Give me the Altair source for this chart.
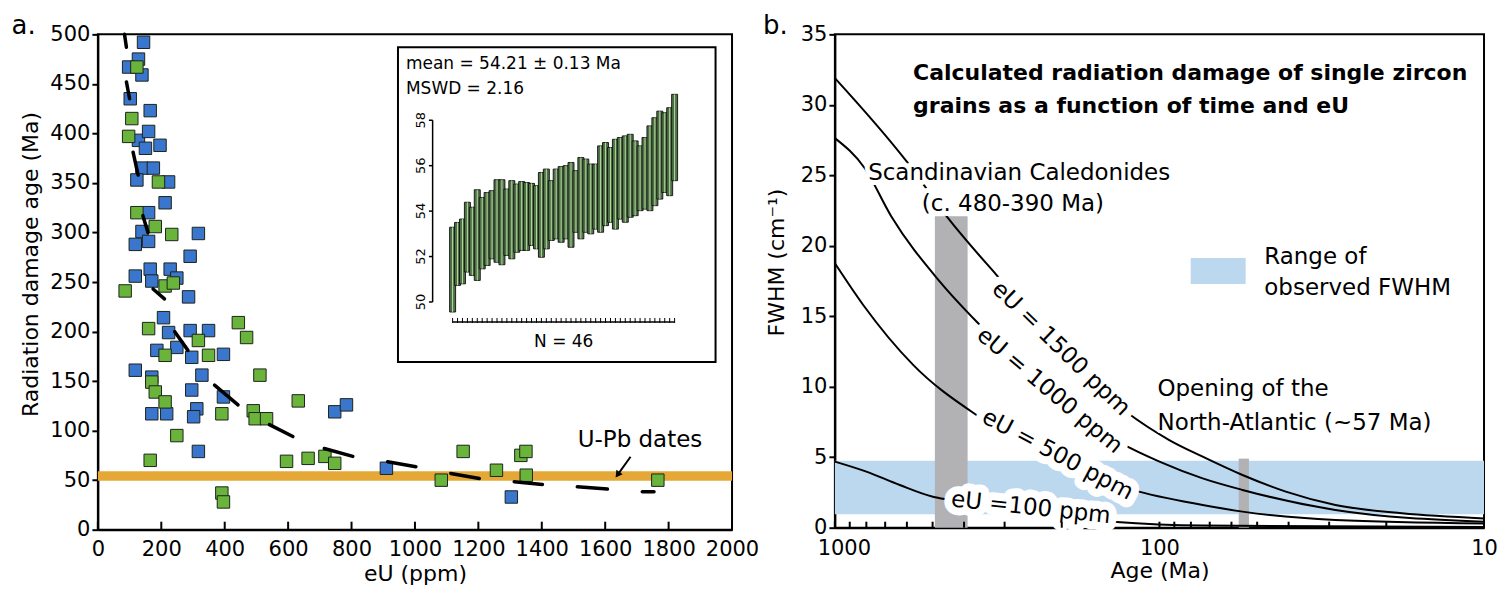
import altair as alt
import pandas as pd

FONT = "DejaVu Sans"

# ---------------- Panel a : radiation damage age vs eU ----------------
blue_eu = [144, 128, 97, 139, 102, 165, 128, 160, 150, 196, 139, 175, 123, 223, 212, 160, 139,
           317, 118, 160, 291, 118, 165, 228, 170, 249, 286, 207, 223, 291, 349, 186, 249, 296,
           396, 118, 170, 328, 296, 312, 302, 396, 170, 217, 317, 747, 784, 910, 1304]
blue_age = [492, 475, 467, 459, 435, 423, 393, 402, 385, 388, 365, 365, 353, 351, 330, 320, 301,
            299, 288, 291, 276, 256, 263, 263, 251, 254, 235, 214, 199, 201, 201, 181, 184, 174,
            177, 161, 154, 156, 141, 122, 114, 134, 117, 117, 79, 119, 126, 62, 33]

green_eu = [123, 107, 97, 191, 123, 181, 233, 212, 238, 86, 160, 317, 212, 349, 443, 469, 170,
            181, 212, 391, 511, 490, 496, 532, 632, 249, 165, 595, 663, 716, 747, 391, 396,
            1083, 1152, 1257, 1334, 1350, 1351, 1766]
green_age = [467, 415, 397, 351, 320, 306, 298, 246, 249, 241, 203, 191, 176, 176, 209, 194, 149,
             139, 129, 117, 156, 120, 112, 112, 130, 95, 70, 69, 72, 74, 67, 37, 28,
             50, 79, 60, 75, 79, 55, 50]

# dashed trend line, one entry per visible dash
dash_eu1 = [84, 90, 111, 142, 174, 242, 368, 541, 714, 914, 1113, 1313, 1512, 1717]
dash_age1 = [500, 452, 381, 317, 243, 200, 146, 106, 82, 68.5, 56.8, 48.4, 43.3, 38.3]
dash_eu2 = [90, 100, 127, 158, 210, 284, 442, 615, 804, 1003, 1203, 1402, 1607, 1754]
dash_age2 = [487, 435, 358, 300, 233, 181, 126, 94, 74, 63.5, 51.7, 45.7, 41.0, 38.3]

upb_band = [49.5, 59.0]          # U-Pb dates band (Ma)
arrow_eu = [1680, 1639]
arrow_age = [73.6, 55.4]

eu_ticks = list(range(0, 2001, 200))
age_ticks = list(range(0, 501, 50))

# inset: 46 single-grain U-Pb ages (error bars)
inset_hi = [53.29, 53.5, 53.65, 54.39, 54.17, 54.94, 54.6, 54.82, 54.9, 55.38, 55.38, 54.97, 55.34,
            55.19, 55.3, 55.26, 55.22, 55.12, 55.7, 55.85, 55.34, 55.85, 55.96, 56.0, 56.14, 55.78,
            56.36, 56.29, 56.07, 56.07, 56.87, 57.02, 56.8, 57.16, 57.24, 57.31, 57.38, 57.09,
            56.87, 57.24, 57.75, 58.11, 58.4, 58.33, 58.55, 59.14]
inset_lo = [49.56, 50.73, 50.8, 51.32, 51.17, 50.95, 51.46, 51.61, 51.9, 51.75, 51.64, 52.05, 51.9,
            52.19, 52.27, 52.27, 52.49, 52.34, 51.97, 52.34, 52.71, 52.78, 52.63, 52.78, 52.41,
            53.07, 52.78, 53.07, 53.0, 53.21, 53.07, 53.36, 53.51, 53.21, 53.65, 53.51, 53.73,
            53.8, 54.02, 54.09, 54.02, 54.24, 54.53, 54.82, 54.68, 55.34]
inset_ticks = [50, 52, 54, 56, 58]

# ---------------- Panel b : FWHM vs age ----------------
c1500_age = [1000, 602, 448, 318, 127, 93.3, 73.6, 55.5, 40.8, 28.7, 17.9, 10]
c1500_fwhm = [31.9, 26.0, 21.96, 17.94, 8.24, 6.22, 5.04, 3.74, 2.56, 1.61, 1.02, 0.66]
c1000_age = [1000, 809, 670, 475, 358, 131, 100, 73.6, 55.5, 28.7, 10]
c1000_fwhm = [27.64, 25.5, 22.08, 17.46, 14.39, 5.98, 4.69, 3.5, 2.68, 1.26, 0.43]
c500_age = [1000, 818, 574, 354, 121, 73.6, 55.5, 28.7, 10]
c500_fwhm = [18.76, 15.8, 11.55, 7.76, 2.68, 1.61, 1.14, 0.55, 0.3]
c100_age = [1000, 800, 631, 499, 443, 139, 73.6, 10]
c100_fwhm = [4.69, 3.98, 3.03, 2.2, 1.97, 0.43, 0.15, 0.05]

curve_labels = ["eU = 1500 ppm", "eU = 1000 ppm", "eU = 500 ppm", "eU =100 ppm"]
curve_label_age = [201, 218, 206, 249]
curve_label_fwhm = [12.7, 9.73, 5.18, 1.42]
curve_label_angle = [44, 40, 28, 6]

fwhm_range = [0.95, 4.75]                  # observed FWHM band
caledonides = [492, 390, 0, 22.1]          # age from, age to, fwhm from, fwhm to
atlantic = [57, 53, 0, 4.9]

age_minor_ticks = [1000, 900, 800, 700, 600, 500, 400, 300, 200, 100,
                   90, 80, 70, 60, 50, 40, 30, 20, 10]
age_labels = [1000, 100, 10]
fwhm_ticks = list(range(0, 36, 5))

# ---------------- layout ----------------
W_A, H_A = 635, 496
W_B, H_B = 650, 494
BLUE, GREEN, EDGE = "#3a76cd", "#6ab43c", "#1c241c"
ORANGE = "#E5A837"


def halo_text(text, x, y, size, align="left", baseline="middle", weight="normal", halo=8, angle=0):
    df = pd.DataFrame({"t": [text]})
    return alt.Chart(df).mark_text(font=FONT, fontSize=size, align=align, baseline=baseline,
                                   fontWeight=weight, color="white", stroke="white",
                                   strokeWidth=halo, strokeJoin="round", angle=angle
                                   ).encode(text="t:N", x=alt.value(x), y=alt.value(y))


def label(text, x, y, size, align="left", baseline="middle", weight="normal", angle=0):
    df = pd.DataFrame({"t": [text]})
    return alt.Chart(df).mark_text(font=FONT, fontSize=size, align=align, baseline=baseline,
                                   fontWeight=weight, color="black", angle=angle
                                   ).encode(text="t:N", x=alt.value(x), y=alt.value(y))


# ----- panel a -----
xa = alt.Scale(domain=[0, 2000], nice=False, zero=False)
ya = alt.Scale(domain=[0, 500], nice=False)
axa_x = alt.Axis(values=eu_ticks, format="d", title="eU (ppm)", ticks=False, tickSize=0, labelPadding=9,
                 titlePadding=4, labelFlush=False, labelOverlap=False)
axa_y = alt.Axis(values=age_ticks, format="d", title="Radiation damage age (Ma)", tickSize=6, labelPadding=2,
                 titlePadding=7, titleY=230, labelFlush=False, labelOverlap=False)


def XA(f):
    return alt.X(f, type="quantitative", scale=xa, axis=axa_x)


def YA(f):
    return alt.Y(f, type="quantitative", scale=ya, axis=axa_y)


band_df = pd.DataFrame({"x1": [eu_ticks[0]], "x2": [eu_ticks[-1]], "y1": [upb_band[0]], "y2": [upb_band[1]]})
band = alt.Chart(band_df).mark_rect(color=ORANGE).encode(x=XA("x1"), x2="x2", y=YA("y1"), y2="y2")

blue = alt.Chart(pd.DataFrame({"eU": blue_eu, "age": blue_age})).mark_point(
    shape="square", filled=True, size=155, fill=BLUE, stroke=EDGE, strokeWidth=1, opacity=1
).encode(x=XA("eU"), y=YA("age"))
green = alt.Chart(pd.DataFrame({"eU": green_eu, "age": green_age})).mark_point(
    shape="square", filled=True, size=155, fill=GREEN, stroke=EDGE, strokeWidth=1, opacity=1
).encode(x=XA("eU"), y=YA("age"))

dash_df = pd.DataFrame({"e1": dash_eu1, "a1": dash_age1, "e2": dash_eu2, "a2": dash_age2})
dashes = alt.Chart(dash_df).mark_rule(color="black", strokeWidth=3.5, strokeCap="round").encode(
    x=XA("e1"), y=YA("a1"), x2="e2", y2="a2")

xtick_a = alt.Chart(pd.DataFrame({"v": eu_ticks})).mark_rule(color="black", strokeWidth=2).encode(
    x=XA("v"), y=alt.value(H_A), y2=alt.value(H_A - 8))

arrow_df = pd.DataFrame({"e1": [arrow_eu[0]], "a1": [arrow_age[0]], "e2": [arrow_eu[1]], "a2": [arrow_age[1]]})
arrow_line = alt.Chart(arrow_df).mark_rule(color="black", strokeWidth=2).encode(
    x=XA("e1"), y=YA("a1"), x2="e2", y2="a2")
arrow_head = alt.Chart(arrow_df).mark_point(shape="triangle-down", filled=True, size=60, color="black",
                                             angle=36, opacity=1).encode(x=XA("e2"), y=YA("a2"))

box_df = pd.DataFrame({"t": ["box"]})
inset_box = alt.Chart(box_df).mark_rect(fill="white", stroke="black", strokeWidth=2).encode(
    x=alt.value(300.5), x2=alt.value(618.5), y=alt.value(13), y2=alt.value(328))

main_a = alt.layer(
    band, blue, green, dashes, xtick_a, arrow_line, arrow_head, inset_box,
    label("U-Pb dates", 480.5, 406, 23),
    label("a.", -86.5, 0, 26, baseline="alphabetic"),
)

# inset (own scales, explicit pixel ranges inside panel a)
xi = alt.Scale(domain=[1, 46], range=[350.2, 582.5], nice=False, zero=False)
yi = alt.Scale(domain=[50, 58], range=[268, 86], nice=False, zero=False)
bars_df = pd.DataFrame({"i": list(range(1, len(inset_lo) + 1)), "lo": inset_lo, "hi": inset_hi})
XI = lambda f: alt.X(f, type="quantitative", scale=xi, axis=None)
YI = lambda f: alt.Y(f, type="quantitative", scale=yi, axis=None)

bars = alt.Chart(bars_df).mark_bar(size=6, fill="#4f6f48", stroke="#111111", strokeWidth=0.9).encode(
    x=XI("i"), y=YI("lo"), y2="hi")
stripes = alt.Chart(bars_df).mark_rule(color="#b3de98", strokeWidth=1).encode(
    x=XI("i"), y=YI("lo"), y2="hi")
ib_ticks = alt.Chart(bars_df).mark_rule(color="black", strokeWidth=1).encode(
    x=XI("i"), y=alt.value(284), y2=alt.value(289))
ib_line_df = pd.DataFrame({"a": [1], "b": [len(inset_lo)]})
ib_line = alt.Chart(ib_line_df).mark_rule(color="black", strokeWidth=1.5).encode(
    x=XI("a"), x2="b", y=alt.value(288))
iy_df = pd.DataFrame({"v": inset_ticks})
iy_line_df = pd.DataFrame({"a": [inset_ticks[0]], "b": [inset_ticks[-1]]})
iy_line = alt.Chart(iy_line_df).mark_rule(color="black", strokeWidth=1.5).encode(
    x=alt.value(335.2), y=YI("a"), y2="b")
iy_ticks = alt.Chart(iy_df).mark_rule(color="black", strokeWidth=1.5).encode(
    x=alt.value(331.5), x2=alt.value(335.2), y=YI("v"))
iy_labels = alt.Chart(iy_df).mark_text(font=FONT, fontSize=13, angle=270, align="center",
                                       baseline="middle", color="black").encode(
    text=alt.Text("v:Q", format="d"), x=alt.value(324), y=YI("v"))

inset = alt.layer(
    bars, stripes, ib_line, ib_ticks, iy_line, iy_ticks, iy_labels,
    label("mean =  54.21 ± 0.13 Ma", 308.5, 29.7, 17),
    label("MSWD = 2.16", 308.5, 54.7, 17),
    label("N = 46", 466.5, 308, 17, align="center"),
)

panel_a = alt.layer(main_a, inset).resolve_scale(x="independent", y="independent").properties(
    width=W_A, height=H_A)

# ----- panel b -----
xb = alt.Scale(type="log", domain=[10, 1000], reverse=True, nice=False)
yb = alt.Scale(domain=[0, 35], nice=False)
axb_x = alt.Axis(values=age_labels, format="d", title="Age (Ma)", ticks=False, tickSize=0,
                 labelPadding=10, titlePadding=2, labelFlush=False, labelOverlap=False,
                 labelOffset={"condition": {"test": "datum.value == 1000", "value": 9},
                              "value": 0})
axb_y = alt.Axis(values=fwhm_ticks, title="FWHM (cm⁻¹)", tickSize=6, labelPadding=2, titlePadding=12,
                 titleY=228, labelFlush=False, labelOverlap=False)


def XB(f):
    return alt.X(f, type="quantitative", scale=xb, axis=axb_x)


def YB(f):
    return alt.Y(f, type="quantitative", scale=yb, axis=axb_y)


blueband_df = pd.DataFrame({"x1": [age_labels[0]], "x2": [age_labels[-1]],
                            "y1": [fwhm_range[0]], "y2": [fwhm_range[1]]})
blueband = alt.Chart(blueband_df).mark_rect(color="#BBD8EF").encode(
    x=XB("x1"), x2="x2", y=YB("y1"), y2="y2")
gray_df = pd.DataFrame({"x1": [caledonides[0], atlantic[0]], "x2": [caledonides[1], atlantic[1]],
                        "y1": [caledonides[2], atlantic[2]], "y2": [caledonides[3], atlantic[3]]})
grays = alt.Chart(gray_df).mark_rect(color="#B2B2B5").encode(x=XB("x1"), x2="x2", y=YB("y1"), y2="y2")

rows = []
for name, ages, vals in [("1500", c1500_age, c1500_fwhm), ("1000", c1000_age, c1000_fwhm),
                         ("500", c500_age, c500_fwhm), ("100", c100_age, c100_fwhm)]:
    for k, (a, v) in enumerate(zip(ages, vals)):
        rows.append({"eU": name, "age": a, "fwhm": v, "ord": k})
curves = alt.Chart(pd.DataFrame(rows)).mark_line(color="black", strokeWidth=2, interpolate="monotone").encode(
    x=XB("age"), y=YB("fwhm"), detail="eU:N", order="ord:Q")

xtick_b = alt.Chart(pd.DataFrame({"v": age_minor_ticks})).mark_rule(color="black", strokeWidth=2).encode(
    x=XB("v"), y=alt.value(H_B), y2=alt.value(H_B - 6))

curve_halos, curve_texts = [], []
for t, a, f, ang in zip(curve_labels, curve_label_age, curve_label_fwhm, curve_label_angle):
    df = pd.DataFrame({"t": [t], "age": [a], "fwhm": [f]})
    curve_halos.append(alt.Chart(df).mark_text(
        font=FONT, fontSize=23, angle=ang, align="center", baseline="middle", color="white",
        stroke="white", strokeWidth=16, strokeJoin="round").encode(text="t:N", x=XB("age"), y=YB("fwhm")))
    curve_texts.append(alt.Chart(df).mark_text(
        font=FONT, fontSize=23, angle=ang, align="center", baseline="middle", color="black"
    ).encode(text="t:N", x=XB("age"), y=YB("fwhm")))

legend_rect = alt.Chart(box_df).mark_rect(color="#BBD8EF").encode(
    x=alt.value(356.3), x2=alt.value(411.3), y=alt.value(224), y2=alt.value(250))

panel_b = alt.layer(
    blueband, grays, curves,
    *curve_halos,
    halo_text("Scandinavian Caledonides", 33.3, 139, 23, halo=10),
    halo_text("(c. 480-390 Ma)", 178.3, 170, 23, align="center", halo=10),
    halo_text("Opening of the", 323, 355, 23, halo=6),
    halo_text("North-Atlantic (~57 Ma)", 323, 389, 23, halo=6),
    xtick_b,
    *curve_texts,
    label("Scandinavian Caledonides", 33.3, 139, 23),
    label("(c. 480-390 Ma)", 178.3, 170, 23, align="center"),
    label("Calculated radiation damage of single zircon", 78.3, 39, 22, weight="bold"),
    label("grains as a function of time and eU", 78.3, 72, 22, weight="bold"),
    legend_rect,
    label("Range of", 430, 223, 23),
    label("observed FWHM", 430, 254, 23),
    label("Opening of the", 323, 355, 23),
    label("North-Atlantic (~57 Ma)", 323, 389, 23),
    label("b.", -72, 0, 26, baseline="alphabetic"),
).properties(width=W_B, height=H_B)

chart = alt.hconcat(panel_a, panel_b, spacing=2).properties(
    padding={"left": 2, "top": 4, "right": 0, "bottom": 0}
).configure_view(stroke="black", strokeWidth=2).configure_axis(
    grid=False, labelFont=FONT, titleFont=FONT, labelFontSize=21, titleFontSize=22,
    titleFontWeight="normal", labelColor="black", titleColor="black", domainColor="black",
    tickColor="black", domainWidth=2, tickWidth=2
)

chart.save("out.html", embed_options={"renderer": "svg", "actions": False})
